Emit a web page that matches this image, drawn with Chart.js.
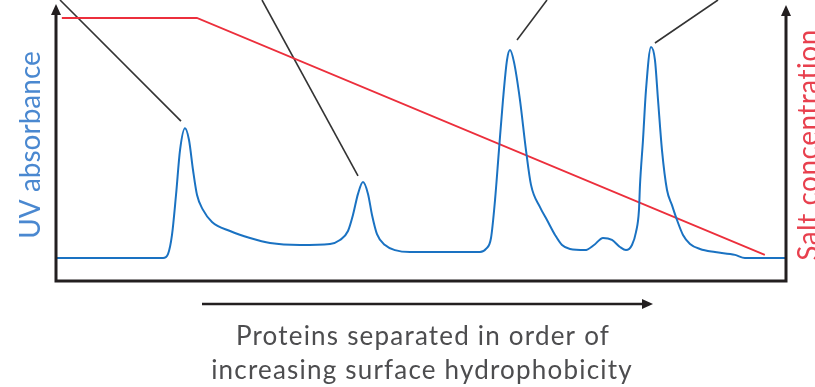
<!DOCTYPE html>
<html>
<head>
<meta charset="utf-8">
<script src="https://cdn.jsdelivr.net/npm/chart.js@4.4.1/dist/chart.umd.min.js"></script>
<style>
  html, body { margin: 0; padding: 0; background: #ffffff; }
  canvas { display: block; }
</style>
</head>
<body>
<canvas id="hicChart" width="815" height="387"></canvas>
<script>
// elution position (0-100 across the run) and UV signal (0-100)
const elutionVolume = [0, 14.66, 15.34, 15.89, 16.44, 16.99, 17.67, 18.22, 18.77, 19.32, 20.14, 21.37, 23.84, 26.58, 29.32, 33.42, 37.53, 38.9, 40.0, 40.68, 41.37, 42.05, 42.74, 43.29, 43.97, 45.07, 46.44, 48.49, 58.08, 58.9, 59.59, 60.14, 60.68, 61.23, 61.78, 62.19, 62.74, 63.56, 64.38, 65.07, 66.3, 67.26, 68.36, 69.32, 70.41, 72.47, 73.7, 74.93, 76.16, 77.26, 78.08, 78.9, 79.45, 79.86, 80.0, 80.41, 80.82, 81.51, 82.05, 82.47, 83.01, 83.7, 84.38, 85.07, 85.89, 86.85, 88.22, 90.27, 93.01, 94.38, 100];
const uvAbsorbance = [8.2, 8.2, 9.6, 16.4, 30.6, 46.6, 54.4, 50.2, 39.5, 30.6, 25.3, 21.0, 17.8, 15.3, 13.5, 12.8, 13.2, 14.6, 17.8, 23.5, 31.0, 35.2, 31.0, 23.5, 16.7, 12.8, 11.0, 10.3, 10.3, 11.4, 15.3, 28.8, 46.6, 64.4, 78.6, 82.2, 77.9, 64.4, 46.6, 34.2, 26.3, 21.7, 16.4, 12.8, 11.4, 11.0, 12.8, 15.3, 14.6, 12.1, 11.0, 12.8, 17.4, 25.3, 34.2, 50.2, 68.0, 83.3, 78.6, 64.4, 46.6, 32.4, 27.0, 21.7, 16.4, 13.2, 11.4, 10.3, 9.3, 8.2, 8.2];

// salt gradient
const saltVolume = [0.8, 19.3, 97.1];
const saltConcentration = [93.6, 93.6, 9.3];

// pointer lines from the top edge down to each peak
const pointerTopX = [0.55, 28.22, 67.26, 90.68];
const pointerTopY = [100, 100, 100, 100];
const pointerTipX = [17.12, 41.37, 63.15, 82.05];
const pointerTipY = [56.9, 37.4, 85.8, 84.7];

const yTitle = "UV absorbance";
const y2Title = "Salt concentration";
const xTitle = ["Proteins separated in order of", "increasing surface hydrophobicity"];

const FONT = "Lato, 'Open Sans', sans-serif";

const pointerSets = pointerTopX.map((x, i) => ({
  data: [{ x: x, y: pointerTopY[i] }, { x: pointerTipX[i], y: pointerTipY[i] }],
  borderColor: "#333333",
  borderWidth: 1.6,
  pointRadius: 0,
  clip: false,
}));

// arrowhead helper
function arrow(ctx, x, y, dir) {
  ctx.beginPath();
  if (dir === "up") {
    ctx.moveTo(x, y);
    ctx.lineTo(x - 5, y + 11);
    ctx.lineTo(x + 5, y + 11);
  } else {
    ctx.moveTo(x, y);
    ctx.lineTo(x - 11, y - 5);
    ctx.lineTo(x - 11, y + 5);
  }
  ctx.closePath();
  ctx.fill();
}

const framePlugin = {
  id: "frame",
  afterDraw(chart) {
    const ctx = chart.ctx;
    const a = chart.chartArea;
    ctx.save();
    ctx.strokeStyle = "#231f20";
    ctx.fillStyle = "#231f20";
    ctx.lineWidth = 3;
    ctx.lineCap = "butt";

    // left and right axes with arrows, bottom axis
    ctx.beginPath();
    ctx.moveTo(a.left, 14);
    ctx.lineTo(a.left, a.bottom);
    ctx.lineTo(a.right, a.bottom);
    ctx.lineTo(a.right, 14);
    ctx.stroke();
    arrow(ctx, a.left, 4, "up");
    arrow(ctx, a.right, 5, "up");

    // direction arrow under the plot
    ctx.lineWidth = 2.5;
    ctx.beginPath();
    ctx.moveTo(202, 304);
    ctx.lineTo(643, 304);
    ctx.stroke();
    arrow(ctx, 653, 304, "right");

    // bottom caption
    ctx.fillStyle = "#4d4d4f";
    ctx.font = "26px " + FONT;
    ctx.letterSpacing = "1.2px";
    ctx.textAlign = "center";
    ctx.textBaseline = "alphabetic";
    ctx.fillText(xTitle[0], 423, 345);
    ctx.fillText(xTitle[1], 422, 379);

    // left title
    ctx.save();
    ctx.letterSpacing = "0px";
    ctx.translate(40, 145);
    ctx.rotate(-Math.PI / 2);
    ctx.fillStyle = "#4a88d0";
    ctx.font = "28px " + FONT;
    ctx.fillText(yTitle, 0, 0);
    ctx.restore();

    // right title (runs off the edge)
    ctx.save();
    ctx.letterSpacing = "0.5px";
    ctx.translate(818, 145);
    ctx.rotate(-Math.PI / 2);
    ctx.fillStyle = "#e8404e";
    ctx.font = "28px " + FONT;
    ctx.fillText(y2Title, 0, 0);
    ctx.restore();

    ctx.restore();
  },
};

new Chart(document.getElementById("hicChart"), {
  type: "line",
  data: {
    datasets: [
      {
        label: "UV absorbance",
        data: elutionVolume.map((x, i) => ({ x: x, y: uvAbsorbance[i] })),
        borderColor: "#1a72c2",
        borderWidth: 2,
        pointRadius: 0,
        cubicInterpolationMode: "monotone",
      },
      {
        label: "Salt concentration",
        data: saltVolume.map((x, i) => ({ x: x, y: saltConcentration[i] })),
        borderColor: "#ec2f3c",
        borderWidth: 1.8,
        pointRadius: 0,
        tension: 0,
      },
      ...pointerSets,
    ],
  },
  options: {
    responsive: false,
    animation: false,
    devicePixelRatio: 1,
    layout: { padding: { left: 56, right: 29, top: 0, bottom: 106 } },
    scales: {
      x: { type: "linear", min: 0, max: 100, display: false },
      y: { min: 0, max: 100, display: false },
    },
    plugins: {
      legend: { display: false },
      tooltip: { enabled: false },
    },
  },
  plugins: [framePlugin],
});
</script>
</body>
</html>
